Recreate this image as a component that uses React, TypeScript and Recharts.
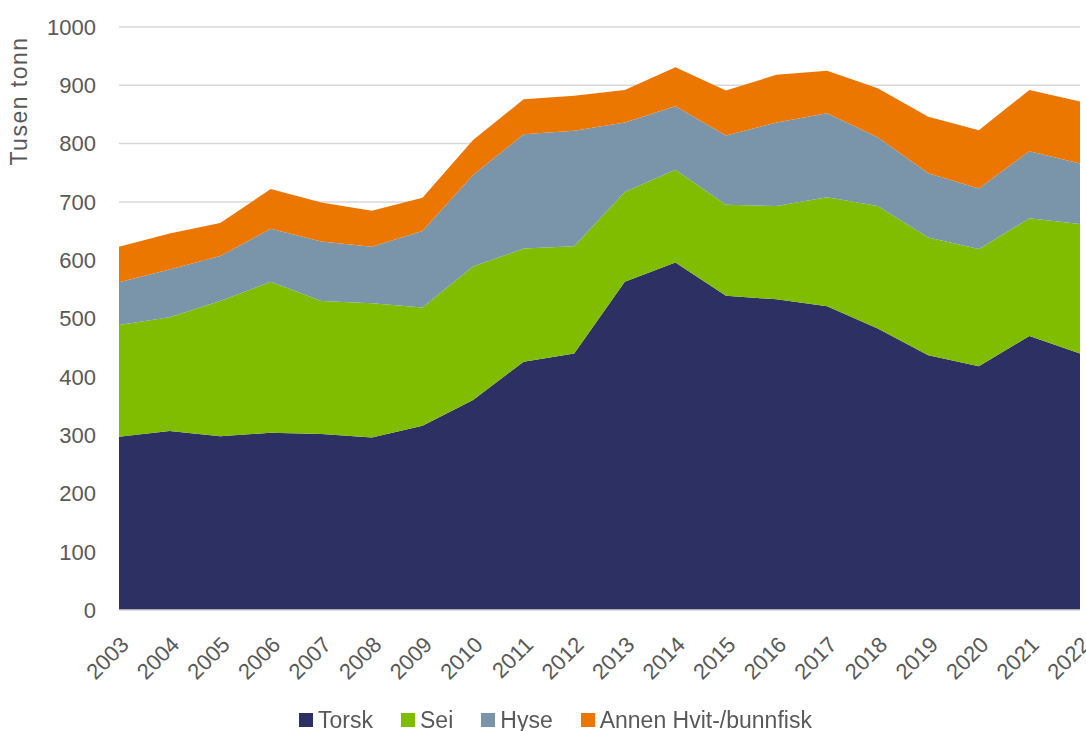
import {
  Area,
  AreaChart,
  CartesianGrid,
  Legend,
  XAxis,
  YAxis,
} from "recharts";

const years = [
  "2003", "2004", "2005", "2006", "2007", "2008", "2009", "2010", "2011", "2012",
  "2013", "2014", "2015", "2016", "2017", "2018", "2019", "2020", "2021", "2022",
];

// Tusen tonn per art
const torsk = [297, 307, 298, 304, 302, 296, 316, 360, 426, 440, 563, 596, 539, 533, 521, 483, 437, 418, 470, 440];
const sei = [192, 195, 232, 259, 228, 230, 203, 229, 194, 184, 154, 159, 156, 160, 187, 210, 202, 201, 202, 222];
const hyse = [73, 82, 77, 91, 102, 97, 131, 157, 196, 198, 119, 109, 119, 143, 144, 118, 110, 104, 115, 104];
const annen = [61, 62, 57, 68, 67, 62, 57, 60, 60, 60, 56, 67, 77, 82, 73, 84, 97, 100, 105, 106];

const yTicks = [0, 100, 200, 300, 400, 500, 600, 700, 800, 900, 1000];

const series = [
  { key: "torsk", name: "Torsk", color: "#2d3063" },
  { key: "sei", name: "Sei", color: "#80bc00" },
  { key: "hyse", name: "Hyse", color: "#7a95a9" },
  { key: "annen", name: "Annen Hvit-/bunnfisk", color: "#ec7700" },
];

const data = years.map((year, i) => ({
  year,
  torsk: torsk[i],
  sei: sei[i],
  hyse: hyse[i],
  annen: annen[i],
}));

const FONT = "'Liberation Sans', Arial, sans-serif";
const GREY = "#595959";

function LegendContent() {
  return (
    <div
      style={{
        height: 30,
        display: "flex",
        justifyContent: "center",
        alignItems: "center",
        gap: 28,
        paddingLeft: 31,
        fontFamily: FONT,
        fontSize: 23,
        color: GREY,
      }}
    >
      {series.map((s) => (
        <span key={s.key} style={{ display: "flex", alignItems: "center" }}>
          <span
            style={{
              width: 14,
              height: 14,
              background: s.color,
              display: "inline-block",
              marginRight: 5,
            }}
          />
          {s.name}
        </span>
      ))}
    </div>
  );
}

function YLabel(props: any) {
  const { x, y } = props.viewBox;
  const cx = x + 19;
  const cy = y + 74;
  return (
    <text
      x={cx}
      y={cy}
      transform={`rotate(-90, ${cx}, ${cy})`}
      textAnchor="middle"
      dominantBaseline="central"
      fill={GREY}
      fontFamily={FONT}
      fontSize={23}
      letterSpacing={1.5}
    >
      Tusen tonn
    </text>
  );
}

export default function App() {
  return (
    <div style={{ position: "fixed", left: 0, top: 0, background: "#fff" }}>
      <AreaChart
        width={1086}
        height={731}
        data={data}
        margin={{ top: 27, right: 6, left: 0, bottom: 16 }}
      >
        <CartesianGrid vertical={false} stroke="#d9d9d9" strokeWidth={1.5} />
        <XAxis
          dataKey="year"
          height={75}
          tickLine={false}
          axisLine={{ stroke: "#d9d9d9", strokeWidth: 1.5 }}
          interval={0}
          tickMargin={19}
          tick={{
            angle: -45,
            textAnchor: "end",
            fill: GREY,
            fontSize: 22,
            fontFamily: FONT,
          }}
        />
        <YAxis
          width={119}
          domain={[0, 1000]}
          ticks={yTicks}
          interval={0}
          tickLine={false}
          axisLine={false}
          tickMargin={17}
          tick={{ fill: GREY, fontSize: 22, fontFamily: FONT }}
          label={{ content: YLabel }}
        />
        {series.map((s) => (
          <Area
            key={s.key}
            type="linear"
            dataKey={s.key}
            name={s.name}
            stackId="1"
            stroke="none"
            fill={s.color}
            fillOpacity={1}
            dot={false}
            activeDot={false}
            isAnimationActive={false}
          />
        ))}
        <Legend
          verticalAlign="bottom"
          content={LegendContent}
          wrapperStyle={{ bottom: -4 }}
        />
      </AreaChart>
    </div>
  );
}
